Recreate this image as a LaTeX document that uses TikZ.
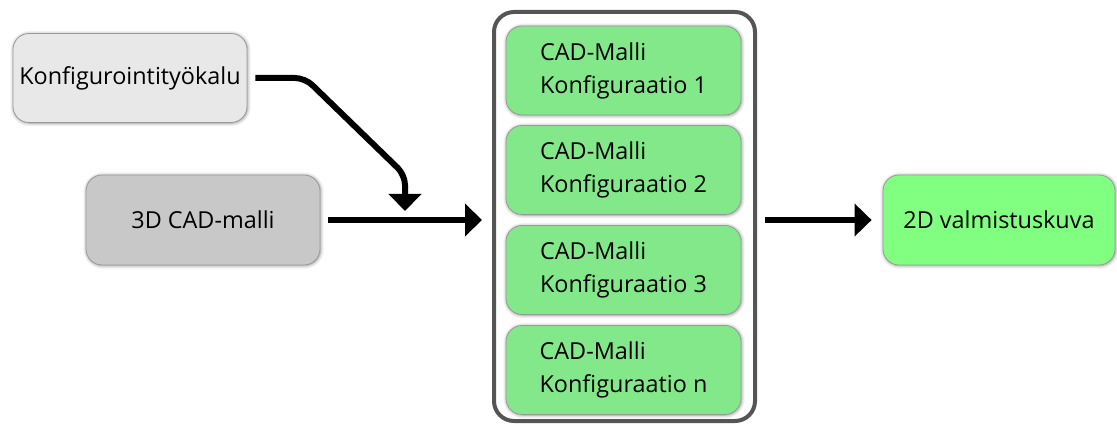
\documentclass[tikz,border=0pt]{standalone}
\usepackage{fontspec}
\setmainfont{Open Sans}
\usetikzlibrary{arrows.meta,shadows.blur}
\definecolor{toolgray}{HTML}{E8E8E8}
\definecolor{modelgray}{HTML}{C8C8C8}
\definecolor{cfggreen}{HTML}{82E88A}
\definecolor{outgreen}{HTML}{80FF80}
\definecolor{frame}{HTML}{555555}
\tikzset{
  box/.style={draw=gray!80, line width=0.8pt, rounded corners=16pt,
    minimum width=234pt, minimum height=89pt, inner sep=0pt,
    font=\fontsize{23.4}{33}\selectfont,
    blur shadow={shadow xshift=0.6pt, shadow yshift=-0.6pt, shadow blur steps=6, shadow opacity=45, shadow blur radius=3.5pt}},
  cfgbox/.style={box, fill=cfggreen, minimum width=235pt, align=left},
  flow/.style={line width=6pt, -{Triangle[width=32pt,length=17pt]}},
}
\begin{document}
\begin{tikzpicture}[x=1pt,y=-1pt]
\useasboundingbox (0,0) rectangle (1117,425);
% inputs
\node[box, fill=toolgray] (tool) at (130,78) {Konfigurointityökalu};
\node[box, fill=modelgray, minimum height=90pt] (model) at (203,220) {3D CAD-malli};
% container of configurations
\node[draw=frame, line width=4pt, rounded corners=20pt, minimum width=261pt,
  minimum height=409pt, inner sep=0pt] (group) at (624.5,216.5) {};
\node[cfgbox] (c1) at (623.5,70.5) {CAD-Malli\\Konfiguraatio 1};
\node[cfgbox] (c2) at (623.5,170) {CAD-Malli\\Konfiguraatio 2};
\node[cfgbox] (c3) at (623.5,270) {CAD-Malli\\Konfiguraatio 3};
\node[cfgbox] (c4) at (623.5,370) {CAD-Malli\\Konfiguraatio n};
% output
\node[box, fill=outgreen, minimum width=232pt, minimum height=90pt] (drawing) at (999,220) {2D valmistuskuva};
% connectors
\coordinate (merge) at (405,211);
\draw[flow, rounded corners=10pt, shorten <=8pt]
  (tool.east) -- (305,78) -- (405,175) -- (merge);
\draw[flow, shorten <=8pt, shorten >=10pt] (model.east) -- (group.west |- model.east);
\draw[flow, shorten <=8pt, shorten >=11pt] (group.east |- drawing.west) -- (drawing.west);
\end{tikzpicture}
\end{document}
